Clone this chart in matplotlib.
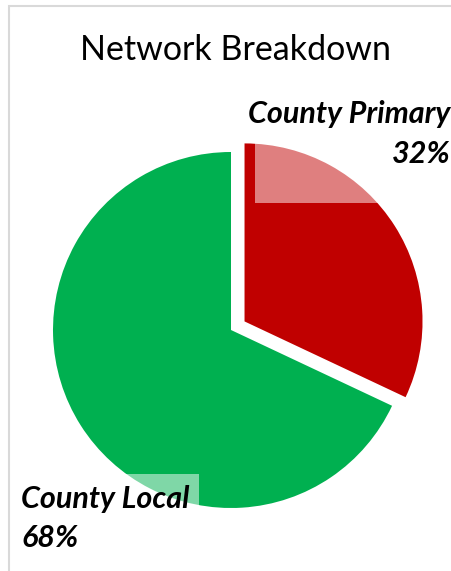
import matplotlib.pyplot as plt
from matplotlib.patches import Rectangle

# data
labels = ["County Primary", "County Local"]
shares = [32, 68]
colors = ["#C00000", "#00B050"]
explode = [0.09, 0]

W, H = 452, 571
fig = plt.figure(figsize=(W / 100, H / 100), dpi=100)


def fx(px):
    return px / W


def fy(py):
    return 1 - py / H


# pie axes: centre (231, 330) px, radius 178 px
cx, cy, R = 231, 330, 178
lim = 1.4
half = R * lim
ax = fig.add_axes([fx(cx - half), fy(cy + half), 2 * half / W, 2 * half / H])
ax.pie(shares, colors=colors, explode=explode, startangle=90,
       counterclock=False, radius=1, wedgeprops=dict(linewidth=0))
ax.set_xlim(-lim, lim)
ax.set_ylim(-lim, lim)
ax.set_aspect("equal")
ax.axis("off")

# chart border (left/top visible)
fig.patches.append(Rectangle((fx(9), fy(H + 20)), fx(W + 20), fy(6) - fy(H + 20),
                             transform=fig.transFigure, fill=False,
                             edgecolor="#D9D9D9", linewidth=1.5))

fig.text(fx(236), fy(50), "Network Breakdown", ha="center", va="center",
         fontsize=24.5, family="Lato", color="black")

# label boxes (semi-transparent white)
ax.add_patch(Rectangle((fx(255), fy(203)), fx(452) - fx(255), fy(95) - fy(203),
                       transform=fig.transFigure, facecolor="white", alpha=0.5,
                       edgecolor="none", clip_on=False, zorder=5))
ax.add_patch(Rectangle((fx(14), fy(560)), fx(199) - fx(14), fy(474) - fy(560),
                       transform=fig.transFigure, facecolor="white", alpha=0.5,
                       edgecolor="none", clip_on=False, zorder=5))

lab = dict(fontsize=22, family="Lato", weight="bold", style="italic",
           va="baseline", color="black")
fig.text(fx(248), fy(123), labels[0], ha="left", **lab)
fig.text(fx(451), fy(163), f"{shares[0]}%", ha="right", **lab)
fig.text(fx(21), fy(508), labels[1], ha="left", **lab)
fig.text(fx(21), fy(547), f"{shares[1]}%", ha="left", **lab)

fig.savefig("out.png", dpi=100)
